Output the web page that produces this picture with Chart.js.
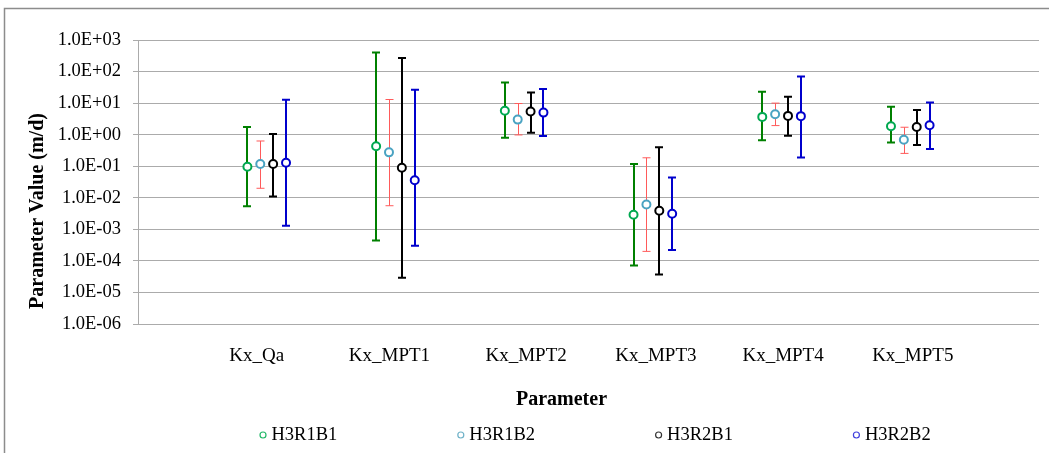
<!DOCTYPE html>
<html>
<head>
<meta charset="utf-8">
<script src="https://cdn.jsdelivr.net/npm/chart.js@4"></script>
<style>
  html, body { margin: 0; padding: 0; background: #fff; }
  #wrap { position: relative; width: 1049px; height: 453px; }
</style>
</head>
<body>
<div id="wrap"><canvas id="c" width="1049" height="453"></canvas></div>
<script>
// ---- data ----
const categories = ['Kx_Qa', 'Kx_MPT1', 'Kx_MPT2', 'Kx_MPT3', 'Kx_MPT4', 'Kx_MPT5'];
const seriesNames = ['H3R1B1', 'H3R1B2', 'H3R2B1', 'H3R2B2'];

const h3r1b1Value = [0.096, 0.43, 5.7, 0.0029, 3.66, 1.85];
const h3r1b1Low   = [0.0054, 0.00044, 0.80, 7.2e-5, 0.66, 0.56];
const h3r1b1High  = [1.76, 400, 45, 0.117, 22.9, 7.6];

const h3r1b2Value = [0.117, 0.275, 3.0, 0.0061, 4.46, 0.69];
const h3r1b2Low   = [0.02, 0.0056, 0.98, 0.0002, 1.94, 0.255];
const h3r1b2High  = [0.63, 13, 9.7, 0.185, 10, 1.72];

const h3r2b1Value = [0.117, 0.089, 5.4, 0.0039, 3.94, 1.76];
const h3r2b1Low   = [0.011, 2.9e-5, 1.16, 3.7e-5, 0.93, 0.47];
const h3r2b1High  = [1.05, 270, 21.7, 0.40, 15.9, 6.0];

const h3r2b2Value = [0.128, 0.036, 5.0, 0.0031, 3.86, 2.0];
const h3r2b2Low   = [0.0013, 0.0003, 0.91, 0.00022, 0.19, 0.35];
const h3r2b2High  = [12.7, 26.5, 27.9, 0.044, 70, 10.4];

const yTickValues = [1e-6, 1e-5, 1e-4, 1e-3, 1e-2, 1e-1, 1e0, 1e1, 1e2, 1e3];
const yTickLabels = ['1.0E-06', '1.0E-05', '1.0E-04', '1.0E-03', '1.0E-02', '1.0E-01', '1.0E+00', '1.0E+01', '1.0E+02', '1.0E+03'];

const yTitle = 'Parameter Value (m/d)';
const xTitle = 'Parameter';

// ---- styles ----
const seriesStyle = [
  { off: -0.15, marker: '#00a850', bar: '#008000', barW: 2, legend: '#22b868' },
  { off: -0.05, marker: '#4aa3c2', bar: '#ff5a5a', barW: 1, legend: '#6fb2c8' },
  { off:  0.05, marker: '#000000', bar: '#000000', barW: 2, legend: '#333333' },
  { off:  0.15, marker: '#0000cc', bar: '#0000cc', barW: 2, legend: '#4040dd' }
];
const seriesValues = [h3r1b1Value, h3r1b2Value, h3r2b1Value, h3r2b2Value];
const seriesLow = [h3r1b1Low, h3r1b2Low, h3r2b1Low, h3r2b2Low];
const seriesHigh = [h3r1b1High, h3r1b2High, h3r2b1High, h3r2b2High];

const SERIF = '"Liberation Serif", "Times New Roman", serif';
const labelShift = [-10, -6, 2, 3, 1.5, 2.5];

const datasets = seriesNames.map((name, s) => ({
  label: name,
  data: seriesValues[s].map((v, j) => ({ x: j + 1 + seriesStyle[s].off, y: v })),
  showLine: false,
  pointStyle: 'circle',
  pointRadius: 4,
  pointBorderWidth: 2,
  pointBorderColor: seriesStyle[s].marker,
  pointBackgroundColor: '#ffffff',
  borderColor: seriesStyle[s].marker,
  backgroundColor: '#ffffff'
}));

const decorPlugin = {
  id: 'decor',
  beforeDraw(chart) {
    const ctx = chart.ctx;
    ctx.save();
    ctx.fillStyle = '#fff';
    ctx.fillRect(0, 0, chart.width, chart.height);
    ctx.strokeStyle = '#8c8c8c';
    ctx.lineWidth = 1.5;
    ctx.strokeRect(4.5, 8.5, 1200, 600);
    ctx.restore();
  },
  beforeDatasetsDraw(chart) {
    const ctx = chart.ctx;
    const xs = chart.scales.x, ys = chart.scales.y;
    ctx.save();
    seriesNames.forEach((n, s) => {
      const st = seriesStyle[s];
      ctx.strokeStyle = st.bar;
      ctx.lineWidth = st.barW;
      seriesValues[s].forEach((v, j) => {
        const x = Math.round(xs.getPixelForValue(j + 1 + st.off)) + (st.barW === 1 ? 0.5 : 0);
        const yl = ys.getPixelForValue(seriesLow[s][j]);
        const yh = ys.getPixelForValue(seriesHigh[s][j]);
        ctx.beginPath();
        ctx.moveTo(x, yl); ctx.lineTo(x, yh);
        ctx.moveTo(x - 4, yl); ctx.lineTo(x + 4, yl);
        ctx.moveTo(x - 4, yh); ctx.lineTo(x + 4, yh);
        ctx.stroke();
      });
    });
    ctx.restore();
  },
  afterDraw(chart) {
    const ctx = chart.ctx;
    const xs = chart.scales.x;
    ctx.save();
    // category labels
    ctx.fillStyle = '#000';
    ctx.font = '19px ' + SERIF;
    ctx.textAlign = 'center';
    ctx.textBaseline = 'middle';
    categories.forEach((c, j) => {
      ctx.fillText(c, xs.getPixelForValue(j + 1) + labelShift[j], 356.5);
    });
    // x title
    ctx.font = 'bold 20px ' + SERIF;
    ctx.fillText(xTitle, 561.5, 399.5);
    // y title
    ctx.save();
    ctx.translate(38, 211);
    ctx.rotate(-Math.PI / 2);
    ctx.fillText(yTitle, 0, 0);
    ctx.restore();
    // legend
    ctx.font = '18.5px ' + SERIF;
    ctx.textAlign = 'left';
    seriesNames.forEach((n, s) => {
      const cx = 263 + s * 197.8;
      ctx.beginPath();
      ctx.strokeStyle = seriesStyle[s].legend;
      ctx.lineWidth = 1.2;
      ctx.arc(cx, 435, 3, 0, Math.PI * 2);
      ctx.stroke();
      ctx.fillStyle = '#000';
      ctx.fillText(n, cx + 8.5, 435.5);
    });
    ctx.restore();
  }
};

new Chart(document.getElementById('c'), {
  type: 'scatter',
  data: { datasets },
  plugins: [decorPlugin],
  options: {
    responsive: false,
    animation: false,
    events: [],
    layout: { padding: { left: 0, right: 10, top: 40, bottom: 0 } },
    plugins: { legend: { display: false }, tooltip: { enabled: false }, title: { display: false } },
    scales: {
      x: {
        type: 'linear',
        min: 0, max: 7,
        grid: { display: false, drawTicks: false },
        border: { display: false },
        ticks: { display: false },
        afterFit(scale) { scale.height = 129; }
      },
      y: {
        type: 'logarithmic',
        min: 1e-6, max: 1e3,
        afterBuildTicks(scale) { scale.ticks = yTickValues.map(v => ({ value: v })); },
        afterFit(scale) { scale.width = 138; },
        grid: { color: '#ababab', lineWidth: 1, drawTicks: true, tickLength: 5 },
        border: { display: true, color: '#ababab', width: 1 },
        ticks: {
          color: '#000',
          padding: 12,
          font: { family: SERIF, size: 18.5 },
          callback(v) { const i = yTickValues.findIndex(t => Math.abs(Math.log10(t) - Math.log10(v)) < 1e-6); return i >= 0 ? yTickLabels[i] : null; }
        }
      }
    }
  }
});
</script>
</body>
</html>
